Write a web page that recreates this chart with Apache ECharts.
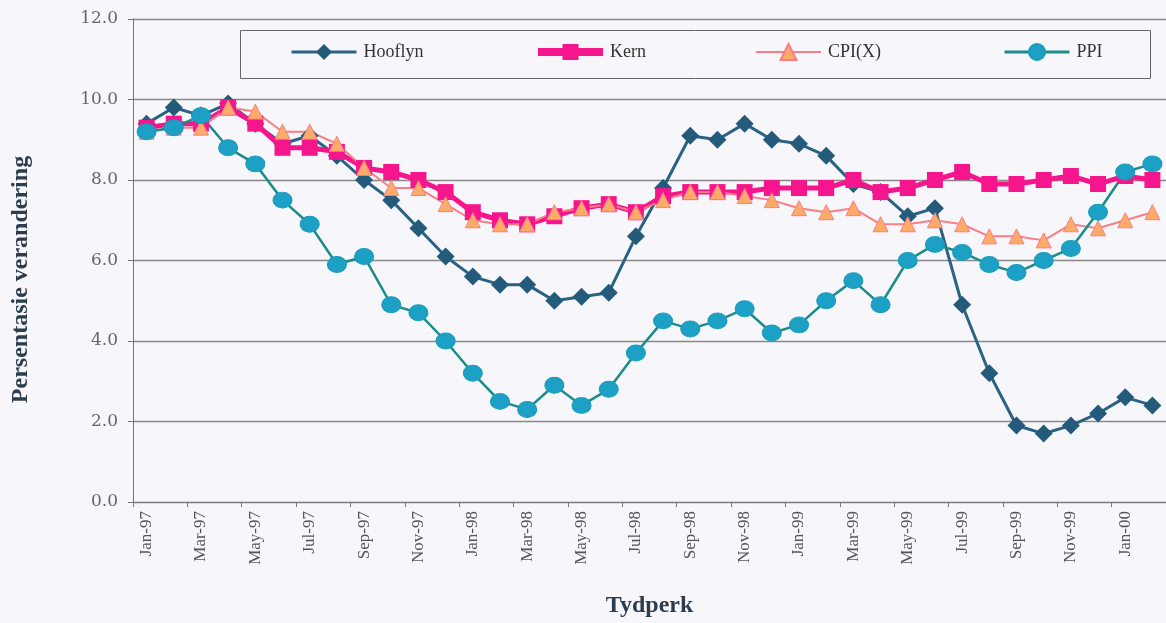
<!DOCTYPE html>
<html>
<head>
<meta charset="utf-8">
<script src="https://cdn.jsdelivr.net/npm/echarts@6/dist/echarts.min.js"></script>
<style>
  html, body { margin: 0; padding: 0; background: #f7f7fb; }
  #chart { width: 1166px; height: 623px; }
</style>
</head>
<body>
<div id="chart"></div>
<script>
// maande
const months = [
  'Jan-97','Feb-97','Mar-97','Apr-97','May-97','Jun-97','Jul-97','Aug-97','Sep-97','Oct-97','Nov-97','Dec-97',
  'Jan-98','Feb-98','Mar-98','Apr-98','May-98','Jun-98','Jul-98','Aug-98','Sep-98','Oct-98','Nov-98','Dec-98',
  'Jan-99','Feb-99','Mar-99','Apr-99','May-99','Jun-99','Jul-99','Aug-99','Sep-99','Oct-99','Nov-99','Dec-99',
  'Jan-00','Feb-00'
]
const hooflyn = [9.4,9.8,9.6,9.9,9.4,8.9,9.1,8.6,8.0,7.5,6.8,6.1, 5.6,5.4,5.4,5.0,5.1,5.2,6.6,7.8,9.1,9.0,9.4,9.0, 8.9,8.6,7.9,7.7,7.1,7.3,4.9,3.2,1.9,1.7,1.9,2.2, 2.6,2.4]
const kern = [9.3,9.4,9.4,9.8,9.4,8.8,8.8,8.7,8.3,8.2,8.0,7.7, 7.2,7.0,6.9,7.1,7.3,7.4,7.2,7.6,7.7,7.7,7.7,7.8, 7.8,7.8,8.0,7.7,7.8,8.0,8.2,7.9,7.9,8.0,8.1,7.9, 8.1,8.0]
const cpix = [9.2,9.3,9.3,9.8,9.7,9.2,9.2,8.9,8.3,7.8,7.8,7.4, 7.0,6.9,6.9,7.2,7.3,7.4,7.2,7.5,7.7,7.7,7.6,7.5, 7.3,7.2,7.3,6.9,6.9,7.0,6.9,6.6,6.6,6.5,6.9,6.8, 7.0,7.2]
const ppi = [9.2,9.3,9.6,8.8,8.4,7.5,6.9,5.9,6.1,4.9,4.7,4.0, 3.2,2.5,2.3,2.9,2.4,2.8,3.7,4.5,4.3,4.5,4.8,4.2, 4.4,5.0,5.5,4.9,6.0,6.4,6.2,5.9,5.7,6.0,6.3,7.2, 8.2,8.4]

const serif = "'Liberation Serif', 'Times New Roman', serif"
const bg = '#f7f7fb'

function legendAt(name, left, lineWidth) {
  return {
    data: [name],
    left: left,
    top: 43,
    padding: 0,
    z: 10,
    itemWidth: 65,
    itemHeight: 20,
    lineStyle: { width: lineWidth },
    textStyle: { fontFamily: serif, fontSize: 18, color: '#333', padding: [0, 0, 0, 2] }
  }
}

const chart = echarts.init(document.getElementById('chart'))
const option = {
  backgroundColor: bg,
  animation: false,
  grid: { left: 133, right: -8, top: 19, bottom: 121 },
  graphic: [{
    type: 'rect',
    shape: { x: 240.5, y: 30.5, width: 910, height: 48 },
    style: { fill: bg, stroke: '#666', lineWidth: 1 },
    z: 3
  }],
  legend: [
    legendAt('Hooflyn', 290, 3),
    legendAt('Kern', 534, 8),
    legendAt('CPI(X)', 755, 2),
    legendAt('PPI', 1003, 3)
  ],
  xAxis: {
    type: 'category',
    data: months,
    boundaryGap: true,
    name: 'Tydperk',
    nameLocation: 'middle',
    nameGap: 92,
    nameTextStyle: { fontFamily: serif, fontSize: 24, fontWeight: 'bold', color: '#2d3d4d' },
    axisLine: { lineStyle: { color: '#777', width: 1 } },
    axisTick: { show: true, interval: 1, length: 5, lineStyle: { color: '#777' } },
    axisLabel: { interval: 1, rotate: 90, margin: 9, fontFamily: serif, fontSize: 17, color: '#555' }
  },
  yAxis: {
    type: 'value',
    min: 0,
    max: 12,
    interval: 2,
    name: 'Persentasie verandering',
    nameLocation: 'middle',
    nameGap: 100,
    nameTextStyle: { fontFamily: serif, fontSize: 24, fontWeight: 'bold', color: '#2d3d4d', padding: [0, 38, 0, 0] },
    axisLine: { show: true, lineStyle: { color: '#777', width: 1 } },
    axisTick: { show: true, length: 5, lineStyle: { color: '#777' } },
    axisLabel: { margin: 15, fontFamily: "'DejaVu Serif', serif", fontSize: 17, color: '#666', formatter: v => v.toFixed(1) },
    splitLine: { lineStyle: { color: '#888', width: 1.3 } }
  },
  series: [
    {
      name: 'Hooflyn',
      type: 'line',
      data: hooflyn,
      symbol: 'diamond',
      symbolSize: 18,
      lineStyle: { color: '#2a6283', width: 3 },
      itemStyle: { color: '#245b7b' }
    },
    {
      name: 'Kern',
      type: 'line',
      data: kern,
      symbol: 'rect',
      symbolSize: 16,
      lineStyle: { color: '#f5168d', width: 5 },
      itemStyle: { color: '#f5168d' }
    },
    {
      name: 'CPI(X)',
      type: 'line',
      data: cpix,
      symbol: 'triangle',
      symbolSize: 15,
      lineStyle: { color: '#fb7d85', width: 2 },
      itemStyle: { color: '#fdab69', borderColor: '#fb7d85', borderWidth: 1 }
    },
    {
      name: 'PPI',
      type: 'line',
      data: ppi,
      symbol: 'circle',
      symbolSize: [19, 16],
      lineStyle: { color: '#1b8c8a', width: 2.5 },
      itemStyle: { color: '#1ca0c6', borderColor: '#1b9bb8', borderWidth: 1 }
    }
  ]
}
chart.setOption(option)
</script>
</body>
</html>
